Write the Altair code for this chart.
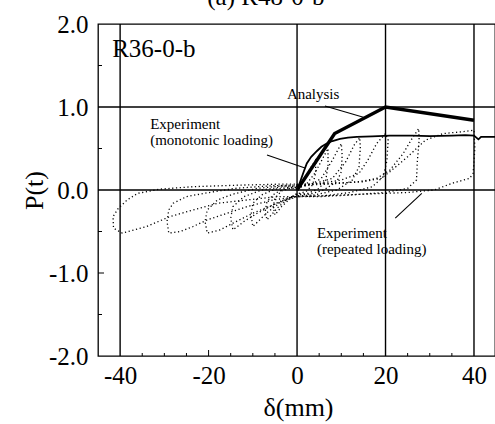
import altair as alt
import pandas as pd

# ---------------- data ----------------
analysis_x = [0, 8.5, 20, 40]
analysis_y = [0, 0.68, 1.0, 0.84]

mono_x = [0, 0.7, 1.5, 2.2, 3.2, 4.5, 5.5, 6.7, 8, 9.7, 11.5, 13.5, 17, 21, 26, 30, 35, 38, 40, 41, 41.6, 44.75]
mono_y = [0, 0.1, 0.22, 0.32, 0.4, 0.47, 0.52, 0.56, 0.59, 0.615, 0.63, 0.64, 0.645, 0.655, 0.655, 0.65, 0.655, 0.66, 0.655, 0.61, 0.64, 0.64]

loop1_x = [0, 1.5, 3, 4.2, 4.2, 3.5, 2, 0.5, 0, -1.5, -3.5, -5, -5.4, -5, -3.5, -1.5, 0]
loop1_y = [0, 0.12, 0.26, 0.36, 0.2, 0.06, -0.02, -0.04, -0.04, -0.1, -0.2, -0.3, -0.2, -0.1, -0.01, 0.02, 0.02]

loop2_x = [0, 2, 4, 6, 7, 7, 6.5, 5, 2.5, 0, -2, -4.5, -6.8, -7.2, -6.8, -5, -2.5, 0]
loop2_y = [0.02, 0.06, 0.2, 0.4, 0.5, 0.3, 0.12, 0.02, -0.04, -0.05, -0.1, -0.22, -0.36, -0.26, -0.14, -0.04, 0.02, 0.03]

loop3_x = [0, 3, 5.5, 8, 10, 10.2, 10, 9, 6, 3, 0, -3, -6.5, -10, -10.4, -10, -8, -5, -2, 0]
loop3_y = [0.03, 0.06, 0.14, 0.36, 0.56, 0.42, 0.22, 0.1, 0.0, -0.05, -0.06, -0.12, -0.26, -0.44, -0.3, -0.16, -0.06, 0.01, 0.03, 0.03]

loop4_x = [0, 4, 8, 11, 13, 14.2, 14.3, 14, 12.5, 9, 4, 0, -4, -9, -12, -14.5, -15, -14.5, -12, -8, -3, 0]
loop4_y = [0.04, 0.08, 0.14, 0.34, 0.55, 0.63, 0.5, 0.28, 0.12, 0.0, -0.06, -0.07, -0.14, -0.28, -0.38, -0.48, -0.34, -0.2, -0.08, 0.0, 0.04, 0.04]

loop5_x = [0, 5, 10, 14, 16, 18, 20, 20.6, 20.3, 19.5, 17, 12, 6, 0, -4.5, -10, -14.5, -17.4, -20.3, -20.8, -20.3, -18, -14.5, -9, -3, 0]
loop5_y = [0.05, 0.08, 0.12, 0.2, 0.36, 0.56, 0.68, 0.6, 0.35, 0.16, 0.04, -0.03, -0.07, -0.08, -0.16, -0.28, -0.4, -0.48, -0.52, -0.38, -0.24, -0.12, -0.05, 0.02, 0.05, 0.05]

loop6_x = [0, 7, 14, 18, 21, 24, 26, 27.5, 27.6, 27.2, 27, 25, 20, 12, 5, 0, -5.4, -11.3, -15.8, -20.3, -23.5, -26.4, -29, -29.4, -29, -28, -25, -21, -14, -6, 0]
loop6_y = [0.06, 0.07, 0.1, 0.14, 0.24, 0.44, 0.62, 0.74, 0.6, 0.35, 0.12, 0.02, -0.03, -0.06, -0.08, -0.08, -0.12, -0.2, -0.28, -0.36, -0.44, -0.5, -0.52, -0.38, -0.24, -0.16, -0.08, -0.04, 0.02, 0.05, 0.06]

loop7_x = [0, 8, 15, 19, 21, 25, 29, 33, 37, 40, 40.2, 39.8, 39, 35, 31, 25, 15, 6, 0, -4.5, -11.3, -18, -23.5, -28.7, -34, -39.5, -41.5, -41.6, -40.4, -38.4, -36, -31, -23.5, -12, -4, 0]
loop7_y = [0.07, 0.08, 0.1, 0.14, 0.22, 0.4, 0.6, 0.68, 0.7, 0.72, 0.5, 0.2, 0.14, 0.08, 0.0, -0.03, -0.05, -0.07, -0.08, -0.08, -0.12, -0.16, -0.24, -0.32, -0.44, -0.52, -0.46, -0.32, -0.22, -0.12, -0.04, 0.01, 0.04, 0.06, 0.07, 0.07]

grid_x = [-40, 0, 20, 40]
grid_y = [0.0, 1.0]
x_tick_values = [-40, -20, 0, 20, 40]
y_tick_values = [-2.0, -1.0, 0.0, 1.0, 2.0]
minor_x = [-35, -30, -25, -15, -10, -5, 5, 10, 15, 25, 30, 35]
major_x = [-20]
minor_y = [1.5, 0.5, -0.5, -1.5]
major_y = [-1.0]

annot_text = ["R36-0-b", "Analysis", "Experiment", "(monotonic loading)", "Experiment", "(repeated loading)", "(a) R48-0-b"]
annot_x = [-41.8, -2.3, -33.2, -33.2, 4.5, 4.5, -20.3]
annot_y = [1.60, 1.096, 0.735, 0.542, -0.578, -0.77, 2.229]
annot_size = [25, 15, 15, 15, 15, 15, 25]

ptr_x = [6.3, -6.8, 22.2]
ptr_y = [1.012, 0.422, -0.34]
ptr_x2 = [15.0, 1.8, 28.2]
ptr_y2 = [0.876, 0.265, -0.04]

# ---------------- build tables ----------------
loops = [(loop1_x, loop1_y), (loop2_x, loop2_y), (loop3_x, loop3_y), (loop4_x, loop4_y),
         (loop5_x, loop5_y), (loop6_x, loop6_y), (loop7_x, loop7_y)]
rows = []
for k, (lx, ly) in enumerate(loops):
    assert len(lx) == len(ly), k
    for i, (a, b) in enumerate(zip(lx, ly)):
        rows.append({"loop": k, "i": i, "x": a, "y": b})
loops_df = pd.DataFrame(rows)

assert len(mono_x) == len(mono_y)
mono_df = pd.DataFrame({"x": mono_x, "y": mono_y, "i": range(len(mono_x))})
ana_df = pd.DataFrame({"x": analysis_x, "y": analysis_y, "i": range(len(analysis_x))})

W, H = 397, 332
FONT = "Liberation Serif"
xs = alt.Scale(domain=[-45, 44.75], nice=False, zero=False)
ys = alt.Scale(domain=[-2, 2], nice=False, zero=False)

x_axis = alt.Axis(values=x_tick_values, labelExpr="'' + datum.value", title="δ(mm)",
                  grid=False, ticks=False, domain=False, labelFont=FONT, labelFontSize=25,
                  labelColor="black", labelPadding=7, titleFont=FONT, titleFontSize=26,
                  titleFontWeight="normal", titleColor="black", titleX=200, titleY=59,
                  titleAlign="center", titleBaseline="alphabetic")
y_axis = alt.Axis(values=y_tick_values,
                  labelExpr="datum.value < 0 ? '-' + format(-datum.value, '.1f') : format(datum.value, '.1f')",
                  title="P(t)", grid=False, ticks=False, domain=False, labelFont=FONT, labelFontSize=25,
                  labelColor="black", labelPadding=10, titleFont=FONT, titleFontSize=26,
                  titleFontWeight="normal", titleColor="black", titleX=-56, titleY=166,
                  titleAngle=270, titleAlign="center", titleBaseline="alphabetic")


def X(field="x"):
    return alt.X(f"{field}:Q", scale=xs, axis=x_axis)


def Y(field="y"):
    return alt.Y(f"{field}:Q", scale=ys, axis=y_axis)


vgrid = alt.Chart(pd.DataFrame({"x": grid_x})).mark_rule(color="black", strokeWidth=1.4).encode(
    x=X(), y=alt.value(0), y2=alt.value(H))
hgrid = alt.Chart(pd.DataFrame({"y": grid_y})).mark_rule(color="black", strokeWidth=1.5).encode(
    y=Y(), x=alt.value(0), x2=alt.value(W))

bt_minor = alt.Chart(pd.DataFrame({"x": minor_x})).mark_rule(color="black", strokeWidth=1).encode(
    x=X(), y=alt.value(H), y2=alt.value(H - 3))
bt_major = alt.Chart(pd.DataFrame({"x": major_x})).mark_rule(color="black", strokeWidth=1).encode(
    x=X(), y=alt.value(H), y2=alt.value(H - 6))
lt_minor = alt.Chart(pd.DataFrame({"y": minor_y})).mark_rule(color="black", strokeWidth=1).encode(
    y=Y(), x=alt.value(0), x2=alt.value(4))
lt_major = alt.Chart(pd.DataFrame({"y": major_y})).mark_rule(color="black", strokeWidth=1).encode(
    y=Y(), x=alt.value(0), x2=alt.value(6))

loop_lines = alt.Chart(loops_df).mark_line(color="black", strokeWidth=1.3, strokeDash=[1.2, 2.6],
                                           strokeCap="butt").encode(
    x=X(), y=Y(), detail="loop:N", order="i:Q")

mono_line = alt.Chart(mono_df).mark_line(color="black", strokeWidth=1.8).encode(
    x=X(), y=Y(), order="i:Q")

ana_line = alt.Chart(ana_df).mark_line(color="black", strokeWidth=3.4, strokeJoin="miter").encode(
    x=X(), y=Y(), order="i:Q")

ptr_df = pd.DataFrame({"x": ptr_x, "y": ptr_y, "x2": ptr_x2, "y2": ptr_y2})
pointers = alt.Chart(ptr_df).mark_rule(color="black", strokeWidth=1.1).encode(
    x=X(), y=Y(), x2="x2:Q", y2="y2:Q")

ann_df = pd.DataFrame({"t": annot_text, "x": annot_x, "y": annot_y, "s": annot_size})
labels = alt.Chart(ann_df).mark_text(font=FONT, color="black", align="left", baseline="alphabetic").encode(
    x=X(), y=Y(), text="t:N", size=alt.Size("s:Q", scale=None, legend=None))

chart = alt.layer(vgrid, hgrid, bt_minor, bt_major, lt_minor, lt_major, loop_lines, mono_line,
                  ana_line, pointers, labels).properties(
    width=W, height=H,
    padding={"left": 98, "top": 24, "right": 0, "bottom": 68},
    autosize=alt.AutoSizeParams(type="none"),
    background="white",
).configure_view(stroke="black", strokeWidth=1.3)

chart.save("out.html", embed_options={"renderer": "svg", "actions": False})
